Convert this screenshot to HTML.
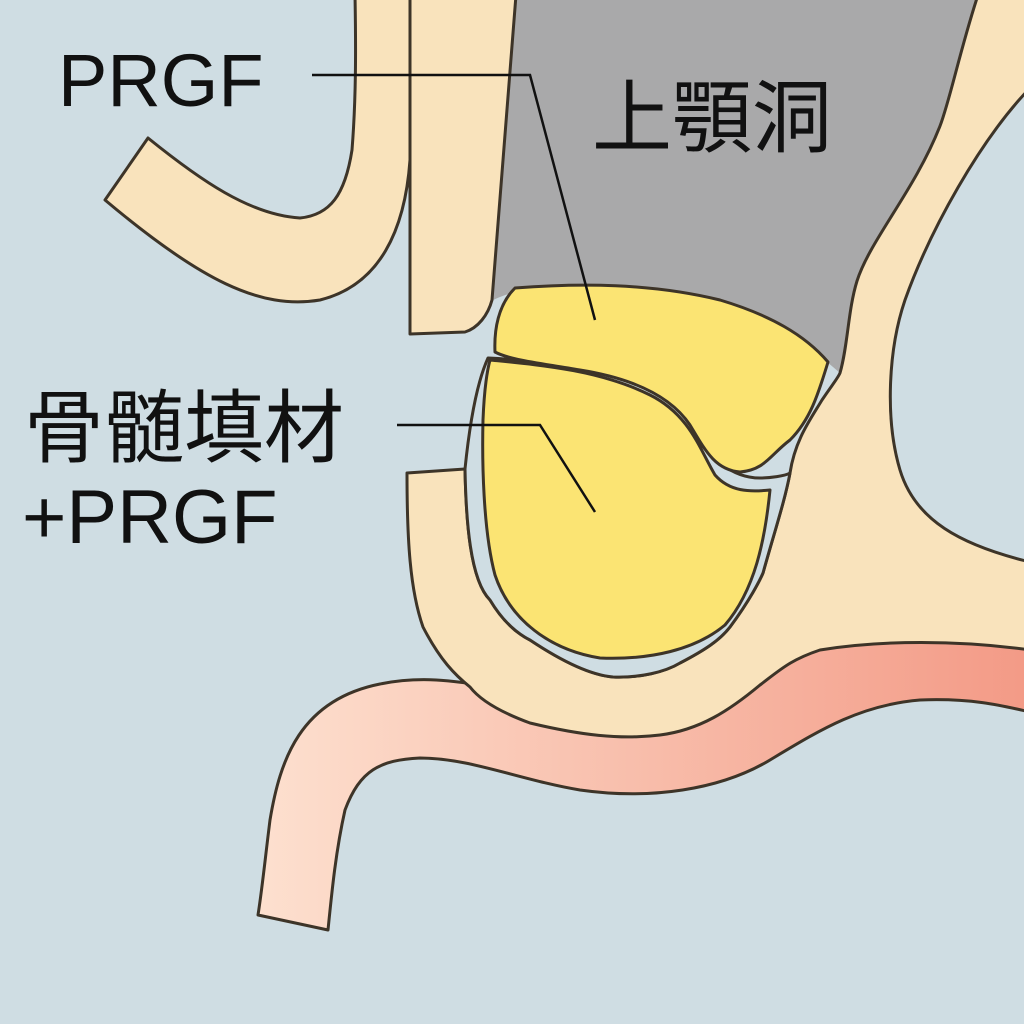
<!DOCTYPE html>
<html><head><meta charset="utf-8"><style>
html,body{margin:0;padding:0;width:1024px;height:1024px;overflow:hidden;background:#cfdde3}
text{font-family:"Liberation Sans","Noto Sans CJK JP",sans-serif;fill:#111}
</style></head><body>
<svg width="1024" height="1024" viewBox="0 0 1024 1024" xmlns="http://www.w3.org/2000/svg">
<defs>
<linearGradient id="g" x1="0" y1="0" x2="1" y2="0">
<stop offset="0" stop-color="#fde0cf"/><stop offset="1" stop-color="#f39a86"/>
</linearGradient>
</defs>
<rect width="1024" height="1024" fill="#cfdde3"/>
<g stroke="#3d3428" stroke-width="3" stroke-linejoin="round">
<!-- sinus -->
<path d="M515,-5 L978,-5 C960,50 950,100 940,126 C915,190 870,240 857,281 C848,310 848,345 840,373 C780,320 700,285 590,285 C540,285 505,292 490,302 C500,200 508,100 515,-5 Z" fill="#a9a9aa" stroke="none"/>
<!-- gum -->
<path d="M1030,640 C960,628 880,625 820,640 C770,655 760,690 700,705 C630,720 560,700 500,688 C450,680 420,676 380,684 C300,700 280,760 270,820 C265,860 262,890 258,915 L328,930 C332,890 336,850 345,810 C360,770 380,760 420,758 C470,758 520,780 580,790 C650,800 720,790 770,760 C820,730 860,705 920,700 C970,698 1000,705 1030,712 Z" fill="url(#g)"/>
<!-- right bone + socket -->
<path d="M978,-5 L1030,-5 L1030,88 C980,140 930,230 905,300 C888,350 885,420 900,470 C915,520 960,545 1030,562 L1030,650 C960,640 880,640 820,650 C790,660 780,670 760,685 C730,710 700,730 660,735 C620,740 580,735 530,723 C500,712 480,700 470,687 C455,675 440,660 423,627 C410,590 407,540 407,473 L465,469 C466,520 470,580 490,600 C505,625 520,635 530,640 C560,660 590,675 613,677 C640,678 665,672 680,663 C705,650 720,640 730,627 C750,600 760,580 763,573 C775,530 785,500 790,473 C795,440 810,420 822,400 C832,385 838,378 840,373 C848,345 848,310 857,281 C870,240 915,190 940,126 C950,100 960,50 978,-5 Z" fill="#f9e3bc"/>
<!-- blue gap in socket -->
<path d="M465,469 C470,420 478,380 488,358 C540,360 620,375 670,410 C700,440 720,478 760,478 C770,478 785,476 790,473 C785,500 775,530 763,573 C760,580 750,600 730,627 C720,640 705,650 680,663 C665,672 640,678 613,677 C590,675 560,660 530,640 C520,635 505,625 490,600 C470,580 466,520 465,469 Z" fill="#cfdde3"/>
<!-- left curved bone -->
<path d="M355,-5 L412,-5 L410,160 C405,230 380,285 320,300 C260,310 200,280 105,200 L148,138 C200,180 250,215 300,218 C330,215 345,195 352,150 C356,100 356,50 355,-5 Z" fill="#f9e3bc"/>
<!-- bone pillar -->
<path d="M410,-5 L516,-5 C508,100 500,200 492,300 C488,315 478,328 465,332 L410,334 Z" fill="#f9e3bc"/>
<!-- upper graft -->
<path d="M515,288 C580,283 650,283 720,300 C770,315 805,335 828,362 C818,395 810,420 790,440 C770,455 765,470 740,472 C715,470 705,450 690,425 C670,395 630,378 580,370 C540,363 510,360 495,352 C494,330 498,305 515,288 Z" fill="#fbe473"/>
<!-- lower graft -->
<path d="M490,360 C540,365 600,370 650,395 C690,415 700,450 715,475 C730,492 750,492 770,490 C765,540 755,590 725,625 C695,650 650,660 600,658 C550,650 510,620 495,575 C483,530 482,460 483,420 C484,395 486,375 490,360 Z" fill="#fbe473"/>
</g>
<g stroke="#111" stroke-width="2.5" fill="none">
<path d="M312,75 L530,75 L595,320"/>
<path d="M397,425 L540,425 L595,512"/>
</g>
<text x="58" y="106" font-size="74">PRGF</text>
<text x="592" y="146" font-size="80">上顎洞</text>
<text x="24" y="456" font-size="80">骨髄填材</text>
<text x="22" y="543" font-size="76">+PRGF</text>
</svg>
</body></html>
